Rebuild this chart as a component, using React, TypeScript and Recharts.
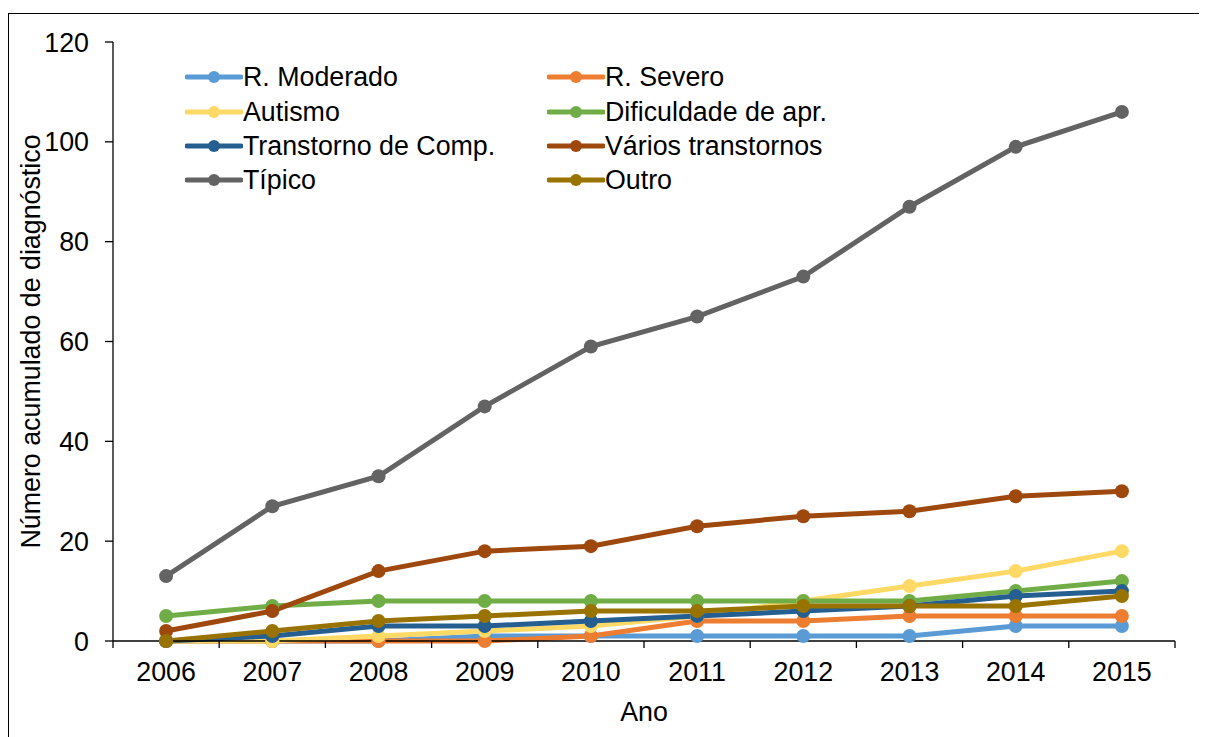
import React from 'react';
import { LineChart, Line, XAxis, YAxis } from 'recharts';

const years = ['2006', '2007', '2008', '2009', '2010', '2011', '2012', '2013', '2014', '2015'];

const rModerado = [0, 0, 0, 1, 1, 1, 1, 1, 3, 3];
const rSevero = [0, 0, 0, 0, 1, 4, 4, 5, 5, 5];
const autismo = [0, 0, 1, 2, 3, 5, 8, 11, 14, 18];
const dificuldade = [5, 7, 8, 8, 8, 8, 8, 8, 10, 12];
const transtorno = [0, 1, 3, 3, 4, 5, 6, 7, 9, 10];
const varios = [2, 6, 14, 18, 19, 23, 25, 26, 29, 30];
const tipico = [13, 27, 33, 47, 59, 65, 73, 87, 99, 106];
const outro = [0, 2, 4, 5, 6, 6, 7, 7, 7, 9];

const yTicks = [0, 20, 40, 60, 80, 100, 120];

const series = [
  { key: 'mod', name: 'R. Moderado', color: '#5B9BD5', values: rModerado },
  { key: 'sev', name: 'R. Severo', color: '#ED7D31', values: rSevero },
  { key: 'aut', name: 'Autismo', color: '#FFD966', values: autismo },
  { key: 'dif', name: 'Dificuldade de apr.', color: '#70AD47', values: dificuldade },
  { key: 'tra', name: 'Transtorno de Comp.', color: '#255E91', values: transtorno },
  { key: 'var', name: 'Vários transtornos', color: '#9E480E', values: varios },
  { key: 'tip', name: 'Típico', color: '#636363', values: tipico },
  { key: 'out', name: 'Outro', color: '#997300', values: outro },
];

const data = years.map((year, i) => {
  const row: Record<string, string | number> = { year };
  series.forEach((s) => {
    row[s.key] = s.values[i];
  });
  return row;
});

const W = 1194;
const H = 723;
const M = { top: 28, right: 28, left: 0, bottom: 0 };
const Y_W = 104;
const X_H = 96;
const HALF_BAND = (W - Y_W - M.right) / years.length / 2;
const FONT = '"Liberation Sans", Arial, sans-serif';
const FS = 26.8;

const XTick = (props: any) => {
  const { x, y, payload, index } = props;
  const last = index === years.length - 1;
  return (
    <g>
      <line x1={x - HALF_BAND} x2={x - HALF_BAND} y1={y} y2={y + 7} stroke="#000" strokeWidth={1.3} />
      {last && <line x1={x + HALF_BAND} x2={x + HALF_BAND} y1={y} y2={y + 7} stroke="#000" strokeWidth={1.3} />}
      <text x={x} y={y + 40} textAnchor="middle" fontSize={FS} fill="#000" fontFamily={FONT}>
        {payload.value}
      </text>
    </g>
  );
};

const legendRows = [63, 98, 132, 166];
const legendCols = [176, 538];

function LegendItem({ s, i }: { s: (typeof series)[number]; i: number }) {
  const row = Math.floor(i / 2);
  const col = i % 2;
  return (
    <div
      style={{
        position: 'absolute',
        top: legendRows[row] - 17,
        left: legendCols[col],
        height: 34,
        display: 'flex',
        alignItems: 'center',
        whiteSpace: 'nowrap',
      }}
    >
      <svg width={58} height={16}>
        <line x1={2} x2={56} y1={8} y2={8} stroke={s.color} strokeWidth={5} strokeLinecap="round" />
        <circle cx={29} cy={8} r={6} fill={s.color} />
      </svg>
      <span style={{ fontSize: FS, lineHeight: 1, fontFamily: FONT, color: '#000' }}>{s.name}</span>
    </div>
  );
}

export default function App() {
  return (
    <div
      style={{
        position: 'relative',
        marginTop: 5,
        width: W,
        height: 740,
        border: '1px solid #000',
        background: '#fff',
        fontFamily: FONT,
      }}
    >
      <LineChart width={W} height={H} data={data} margin={M} style={{ fontFamily: FONT }}>
        <XAxis
          dataKey="year"
          scale="band"
          height={X_H}
          tickSize={0}
          tickMargin={0}
          tickLine={false}
          interval={0}
          axisLine={{ stroke: '#000', strokeWidth: 1.3 }}
          tick={<XTick />}
          label={{ value: 'Ano', position: 'insideBottom', offset: 16, fontSize: FS, fill: '#000' }}
        />
        <YAxis
          width={Y_W}
          domain={[0, 120]}
          ticks={yTicks}
          interval={0}
          tickSize={8}
          tickMargin={16}
          axisLine={{ stroke: '#000', strokeWidth: 1.3 }}
          tickLine={{ stroke: '#000', strokeWidth: 1.3 }}
          tick={{ fill: '#000', fontSize: FS }}
          label={{
            value: 'Número acumulado de diagnóstico',
            angle: -90,
            position: 'insideLeft',
            offset: 21,
            fontSize: FS,
            fill: '#000',
            style: { textAnchor: 'middle' },
          }}
        />
        {series.map((s) => (
          <Line
            key={s.key}
            dataKey={s.key}
            name={s.name}
            type="linear"
            stroke={s.color}
            strokeWidth={5}
            dot={{ r: 7, fill: s.color, stroke: s.color, strokeWidth: 0 }}
            activeDot={false}
            isAnimationActive={false}
          />
        ))}
      </LineChart>
      {series.map((s, i) => (
        <LegendItem key={s.key} s={s} i={i} />
      ))}
    </div>
  );
}
